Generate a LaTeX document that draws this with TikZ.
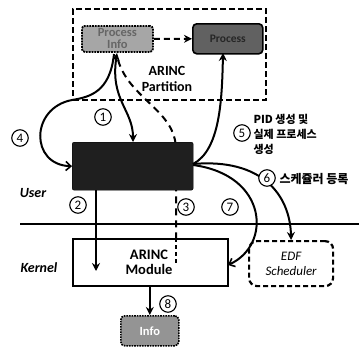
\documentclass[tikz,border=0pt]{standalone}
\usepackage{fontspec}
\setmainfont{Carlito}
\newfontfamily\kr{Noto Sans CJK KR}
\usetikzlibrary{arrows.meta}
\begin{document}
\begin{tikzpicture}[x=1pt,y=-1pt,
  dashbox/.style={draw, line width=2.4pt, dash pattern=on 6pt off 3pt},
  num/.style={draw, circle, line width=1.1pt, inner sep=0pt, minimum size=16.5pt, font=\fontsize{13}{13}\selectfont, fill=white},
  lab/.style={font=\bfseries\itshape\fontsize{14}{14}\selectfont},
  conn/.style={line width=2pt},
  tip/.style={-{Stealth[length=8pt,width=8pt]}},
  barb/.style={-{Straight Barb[length=5pt,width=9pt,line width=1.6pt]}},
  krtext/.style={font=\kr\bfseries\fontsize{11}{15}\selectfont, align=left, anchor=west}
]
\useasboundingbox (0,0) rectangle (359,351);

% ARINC partition
\node[dashbox, minimum width=193pt, minimum height=91pt, anchor=north west, inner sep=0pt] (part) at (72,8) {};
\node[font=\bfseries\fontsize{14}{16}\selectfont, align=center] (partlab) at (167,79) {ARINC\\Partition};

% dashed line 3 (behind black box)
\draw[conn, dash pattern=on 7pt off 5pt] (118,60) .. controls (130,100) and (176,110) .. (176,150) -- (176,264) coordinate (c3end);

% Process info and process
\node[draw, densely dotted, line width=1.8pt, rounded corners=3pt, fill=black!35, minimum width=71pt, minimum height=26pt, anchor=north west, inner sep=0pt,
      font=\bfseries\fontsize{12.5}{12}\selectfont, text=black!60, align=center] (pinfo) at (81,25) {Process\\Info};
\node[draw, line width=1.6pt, rounded corners=4pt, fill=black!62, minimum width=70pt, minimum height=30pt, anchor=north west, inner sep=0pt,
      font=\bfseries\fontsize{11.5}{11}\selectfont, text=black!85] (proc) at (192,23) {Process};
\draw[conn, dash pattern=on 6pt off 4pt, tip] (pinfo.east) -- (proc.west);

% black box
\node[draw, fill=black!88, rounded corners=2pt, minimum width=121pt, minimum height=48pt, anchor=north west, inner sep=0pt] (lib) at (72,142) {};

% user / kernel boundary
\coordinate (bl) at (20,224);
\coordinate (br) at (359,224);
\draw[line width=2.4pt] (bl) -- (br);
\node[lab] (user) at (33,193) {User};
\node[lab] (kernel) at (39,268) {Kernel};

% ARINC module
\node[draw, line width=2.2pt, fill=white, minimum width=155pt, minimum height=47pt, anchor=north west, inner sep=0pt] (mod) at (72,238) {};
\node[font=\bfseries\fontsize{14.5}{15}\selectfont, align=center] (modlab) at (149,262) {ARINC\\Module};
\draw[conn, dash pattern=on 4pt off 3pt] (176,238) -- (c3end);

% EDF scheduler
\node[draw, line width=2.2pt, dash pattern=on 5pt off 3pt, rounded corners=8pt, minimum width=84pt, minimum height=45pt, anchor=north west, inner sep=0pt,
      font=\itshape\fontsize{13}{15}\selectfont, align=center] (edf) at (248,240) {EDF\\Scheduler};

% Info
\node[draw, densely dotted, line width=1.6pt, rounded corners=4pt, fill=black!42, minimum width=58pt, minimum height=30pt, anchor=north west, inner sep=0pt,
      font=\bfseries\fontsize{12.5}{12}\selectfont, text=white] (info) at (120,315) {Info};

% connectors
\draw[conn, {Stealth[length=8pt,width=8pt]}-{Stealth[length=8pt,width=8pt]}] (117,53) .. controls (110,100) and (133,110) .. (133,142);
\draw[conn, barb] (114,54) .. controls (110,92) and (90,97) .. (72,100) .. controls (30,108) and (30,165) .. (lib.west);
\draw[conn, tip] (96,190) -- (96,271);
\draw[conn, tip] (mod.south -| info.north) -- (info.north);
\draw[conn, tip] (193,164) .. controls (220,150) and (222,100) .. (223,53);
\draw[conn, tip] (193,164) .. controls (262,158) and (290,195) .. (edf.north);
\draw[conn, barb] (193,165) .. controls (268,175) and (272,245) .. (228,265);

% numbers
\node[num] (n1) at (103,117) {1};
\node[num] (n2) at (78,205) {2};
\node[num] (n3) at (186,207) {3};
\node[num] (n4) at (20,138) {4};
\node[num] (n5) at (242,133) {5};
\node[num] (n6) at (267,178) {6};
\node[num] (n7) at (230,207) {7};
\node[num] (n8) at (168,304) {8};

\node[krtext] (t5) at (250,134) {PID 생성 및\\실제 프로세스\\생성};
\node[krtext, font=\kr\bfseries\fontsize{12}{12}\selectfont] (t6) at (276,179) {스케쥴러 등록};
\end{tikzpicture}
\end{document}
